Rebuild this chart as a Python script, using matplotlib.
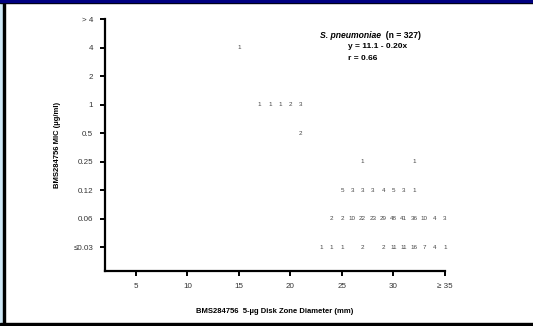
import matplotlib
matplotlib.use("Agg")
import matplotlib.pyplot as plt
from matplotlib.patches import Rectangle

# MIC categories, bottom to top
mic_labels = ["\u22640.03", "0.06", "0.12", "0.25", "0.5", "1", "2", "4", "> 4"]
xtick_vals = [5, 10, 15, 20, 25, 30, 35]
xtick_labels = ["5", "10", "15", "20", "25", "30", "\u2265 35"]

# counts per MIC row: zone diameters and number of isolates
zone_003 = [23, 24, 25, 27, 29, 30, 31, 32, 33, 34, 35]
count_003 = [1, 1, 1, 2, 2, 11, 11, 16, 7, 4, 1]
zone_006 = [24, 25, 26, 27, 28, 29, 30, 31, 32, 33, 34, 35]
count_006 = [2, 2, 10, 22, 23, 29, 48, 41, 36, 10, 4, 3]
zone_012 = [25, 26, 27, 28, 29, 30, 31, 32]
count_012 = [5, 3, 3, 3, 4, 5, 3, 1]
zone_025 = [27, 32]
count_025 = [1, 1]
zone_05 = [21]
count_05 = [2]
zone_1 = [17, 18, 19, 20, 21]
count_1 = [1, 1, 1, 2, 3]
zone_4 = [15]
count_4 = [1]

rows = [(0, zone_003, count_003), (1, zone_006, count_006), (2, zone_012, count_012),
        (3, zone_025, count_025), (4, zone_05, count_05), (5, zone_1, count_1),
        (7, zone_4, count_4)]

plt.rcParams['font.family'] = ['Liberation Sans', 'DejaVu Sans']

W, H = 533, 326
fig = plt.figure(figsize=(W / 100, H / 100), dpi=100)

# slide-style frame
fig.patches.append(Rectangle((0, 0), 3 / W, 1, transform=fig.transFigure, color='#cfe9f7', zorder=0))
fig.patches.append(Rectangle((3 / W, 0), 2 / W, 1, transform=fig.transFigure, color='black', zorder=1))
fig.patches.append(Rectangle((0, 1 - 3 / H), 1, 3 / H, transform=fig.transFigure, color='black', zorder=1))
fig.patches.append(Rectangle((0, 1 - 2 / H), 1, 2 / H, transform=fig.transFigure, color='#000080', zorder=2))
fig.patches.append(Rectangle((0, 0), 1, 3 / H, transform=fig.transFigure, color='black', zorder=1))

ax = fig.add_axes([105 / W, (H - 271) / H, (445 - 105) / W, (271 - 19) / H])
ax.set_xlim(2, 35)
ax.set_ylim(-0.84, 8)

for level, zones, counts in rows:
    for z, c in zip(zones, counts):
        ax.text(z, level, str(c), ha='center', va='center', fontsize=4.5, color='#444444')

ax.spines['top'].set_visible(False)
ax.spines['right'].set_visible(False)
ax.spines['left'].set_linewidth(1.6)
ax.spines['bottom'].set_linewidth(1.6)

ax.set_yticks(range(len(mic_labels)))
ax.set_yticklabels(mic_labels)
ax.set_xticks(xtick_vals)
ax.set_xticklabels(xtick_labels)
ax.tick_params(direction='out', length=3.5, width=1.4, labelsize=5.8, labelcolor='#333333', pad=5)

ax.set_ylabel("BMS284756 MIC (\u00b5g/ml)", fontsize=5.5, fontweight='bold', labelpad=9)
ax.set_xlabel("BMS284756  5-\u00b5g Disk Zone Diameter (mm)", fontsize=5.5, fontweight='bold', labelpad=13)

t1 = fig.text(320 / W, 1 - 35 / H, "S. pneumoniae", fontsize=6.2, fontweight='bold', fontstyle='italic',
              va='center', ha='left')
ax.annotate("  (n = 327)", xy=(1, 0.5), xycoords=t1, fontsize=6.2, fontweight='bold', va='center', ha='left')
fig.text(348 / W, 1 - 47 / H, "y = 11.1 - 0.20x", fontsize=6, fontweight='bold', va='center', ha='left')
fig.text(348 / W, 1 - 58 / H, "r = 0.66", fontsize=6, fontweight='bold', va='center', ha='left')

fig.savefig("out.png", dpi=100)
